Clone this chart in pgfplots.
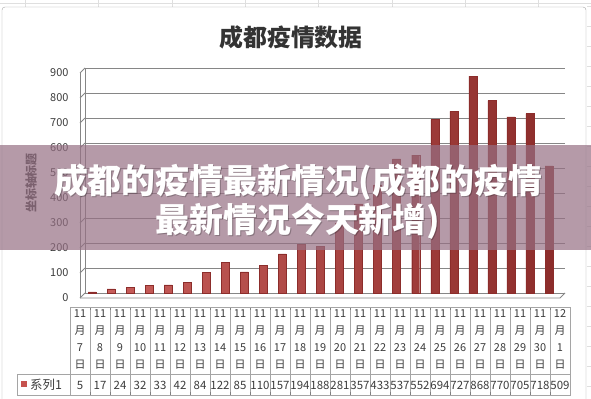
\documentclass[border=0pt]{standalone}
\usepackage{fontspec}
\setmainfont{Noto Sans CJK SC}
\usepackage{pgfplots}
\pgfplotsset{compat=1.18}
\usepackage{pgfplotstable}
\definecolor{barred}{RGB}{198,82,78}
\definecolor{bardark}{RGB}{140,45,43}
\definecolor{gridgray}{RGB}{134,134,134}
\definecolor{tablegray}{RGB}{165,165,165}
\definecolor{bannerc}{RGB}{150,112,132}
\definecolor{labgray}{RGB}{60,60,60}
\pgfplotsset{/pgf/number format/assume math mode=true}

\pgfplotstableread{
x v
0 5
1 17
2 24
3 32
4 33
5 42
6 84
7 122
8 85
9 110
10 157
11 194
12 188
13 281
14 357
15 433
16 537
17 552
18 694
19 727
20 868
21 770
22 705
23 718
24 509
}\cases

\begin{document}
\begin{tikzpicture}
\begin{scope}[x=1bp,y=1bp]
\useasboundingbox (0,0) rectangle (591,398);
\fill[white] (0,0) rectangle (591,398);
% spreadsheet grid outside the chart
\foreach \gx in {25,98,172,245,318,392,465,538} \draw[gray!25] (\gx,391) -- (\gx,398);
\draw[gray!25] (0,395) -- (591,395);
\foreach \gy in {12,32,...,392} \draw[gray!25] (587,\gy) -- (591,\gy);
% chart border
\draw[gray!70, rounded corners=3bp] (2,-4) rectangle (586,391);
% title
\node[font=\bfseries\fontsize{24}{28}\selectfont, text=black!80] at (291,361) {成都疫情数据};
\end{scope}

% main axis
\begin{axis}[at={(85bp,105bp)}, anchor=south west, scale only axis,
  width=480bp, height=225bp,
  xmin=-0.37, xmax=24.84, ymin=0, ymax=900,
  ytick={0,100,...,900}, xtick=\empty,
  ymajorgrids, grid style={gridgray, line width=0.8bp},
  axis lines=left, axis line style={gridgray, -, line width=0.8bp},
  major tick length=0,
  yticklabel style={font=\fontsize{11}{13}\selectfont, text=labgray, xshift=-13bp, yshift=-5bp},
  clip=false]
\addplot[ybar, bar width=8bp, draw=bardark, line width=0.4bp,
  left color=barred!92!white, middle color=barred, right color=bardark]
  table[x=x, y=v] {\cases};
\end{axis}

% data table
\begin{axis}[at={(70bp,3bp)}, anchor=south west, scale only axis,
  width=500bp, height=88bp,
  xmin=-0.5, xmax=24.5, ymin=0, ymax=88,
  axis line style={tablegray},
  xtick={0,...,24}, ytick=\empty, major tick length=0,
  xticklabel pos=upper,
  xticklabels={{11\\月\\7\\日},{11\\月\\8\\日},{11\\月\\9\\日},{11\\月\\10\\日},{11\\月\\11\\日},{11\\月\\12\\日},{11\\月\\13\\日},{11\\月\\14\\日},{11\\月\\15\\日},{11\\月\\16\\日},{11\\月\\17\\日},{11\\月\\18\\日},{11\\月\\19\\日},{11\\月\\20\\日},{11\\月\\21\\日},{11\\月\\22\\日},{11\\月\\23\\日},{11\\月\\24\\日},{11\\月\\25\\日},{11\\月\\26\\日},{11\\月\\27\\日},{11\\月\\28\\日},{11\\月\\29\\日},{11\\月\\30\\日},{12\\月\\1\\日}},
  xticklabel style={anchor=north, align=center, font=\fontsize{11}{17.3}\selectfont, text=labgray, inner sep=2bp},
  minor xtick={0.5,1.5,...,23.5}, xminorgrids, minor x grid style={tablegray},
  clip=false]
\addplot[draw=none, mark=none, nodes near coords, point meta=explicit,
  every node near coord/.append style={anchor=center, font=\fontsize{11.5}{13}\selectfont, text=labgray, inner sep=0pt}]
  table[x=x, y expr=10, meta=v] {\cases};
\draw[tablegray] (axis cs:-0.5,21) -- (axis cs:24.5,21);
\end{axis}

\begin{scope}[x=1bp,y=1bp]
% left wall and floor edges
\foreach \k in {0,...,9} \draw[gridgray, line width=0.8bp] (85,105+25*\k) -- (80,100+25*\k);
\draw[gridgray, line width=0.8bp] (80,100) -- (80,325);
\draw[gridgray, line width=0.8bp] (80,100) -- (560,100) -- (565,105);
% y label
\node[rotate=90, font=\bfseries\fontsize{12}{14}\selectfont, text=labgray] at (31,215) {坐标轴标题};
% table row label
\draw[tablegray] (17,3) rectangle (70,24);
\fill[barred] (21,11) rectangle (27,17);
\node[anchor=west, font=\fontsize{12.5}{14}\selectfont, text=labgray, inner sep=0pt] at (30,13.5) {系列1};
% overlay banner
\fill[bannerc, opacity=0.7] (0,148) rectangle (591,253);
\node[text=black, opacity=0.25, font=\bfseries\fontsize{34}{39}\selectfont, align=center] at (299,195) {成都的疫情最新情况(成都的疫情\\最新情况今天新增)};
\node[text=white, font=\bfseries\fontsize{34}{39}\selectfont, align=center] at (298,196) {成都的疫情最新情况(成都的疫情\\最新情况今天新增)};
\end{scope}
\end{tikzpicture}
\end{document}
